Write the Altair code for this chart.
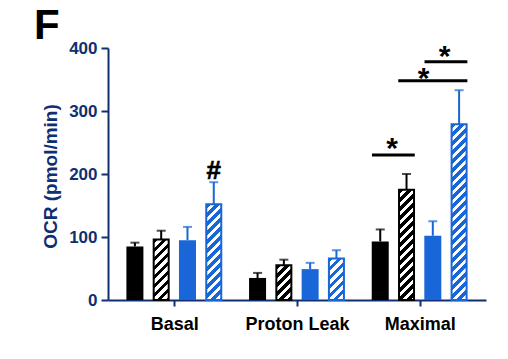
import json
import altair as alt
import pandas as pd

# ---------------- data ----------------
categories = ["Basal", "Proton Leak", "Maximal"]
groups = ["Control", "Control + treatment", "Knockout", "Knockout + treatment"]

mean_control = [85, 35, 93]
mean_control_treated = [96, 55, 175]
mean_knockout = [95, 49, 102]
mean_knockout_treated = [152, 66, 279]

sem_control = [6, 8, 19]
sem_control_treated = [14, 9, 25]
sem_knockout = [21, 10, 23]
sem_knockout_treated = [35, 13, 54]

# significance brackets (category, first group index, last group index, level)
sig_category = ["Maximal", "Maximal", "Maximal"]
sig_from = [0, 1, 2]
sig_to = [1, 3, 3]
sig_level = [230, 348, 378]
star_group_pos = [0.45, 1.65, 2.45]
star_level = [252, 363, 398]

hash_category = ["Basal"]
hash_group = [3]
hash_level = [206]

# ---------------- layout / style ----------------
WIDTH, HEIGHT = 378, 252
YMAX = 400
CAT_PX = WIDTH / len(categories)
GROUP_STEP = 27 / CAT_PX
BAR_PX = 17
HALF_BAR = (BAR_PX / 2) / CAT_PX
NAVY = "#0f2f72"
BLUE = "#1866d8"
BLACK = "#000000"
FONT = "Liberation Sans"
group_colors = [BLACK, BLACK, BLUE, BLUE]
hatched = [False, True, False, True]

means = [mean_control, mean_control_treated, mean_knockout, mean_knockout_treated]
sems = [sem_control, sem_control_treated, sem_knockout, sem_knockout_treated]


def xpos(ci, gpos):
    return ci + 0.5 + (gpos - 1.5) * GROUP_STEP


rows = []
for gi, g in enumerate(groups):
    for ci, c in enumerate(categories):
        rows.append(dict(group=g, gi=gi, category=c, value=means[gi][ci],
                         upper=means[gi][ci] + sems[gi][ci], xpos=xpos(ci, gi)))
df = pd.DataFrame(rows)

sig_df = pd.DataFrame({
    "xpos": [xpos(categories.index(c), a) - HALF_BAR for c, a in zip(sig_category, sig_from)],
    "xend": [xpos(categories.index(c), b) + HALF_BAR for c, b in zip(sig_category, sig_to)],
    "value": sig_level,
})
star_df = pd.DataFrame({
    "xpos": [xpos(categories.index(c), p) for c, p in zip(sig_category, star_group_pos)],
    "value": star_level,
    "label": ["*"] * len(star_level),
})
hash_df = pd.DataFrame({
    "xpos": [xpos(categories.index(c), g) for c, g in zip(hash_category, hash_group)],
    "value": hash_level,
    "label": ["#"],
})

xscale = alt.Scale(domain=[0, len(categories)], nice=False, zero=False)
yscale = alt.Scale(domain=[0, YMAX], nice=False)
label_expr = json.dumps(categories) + "[floor(datum.value)]"
xaxis = alt.Axis(values=[i + 0.5 for i in range(len(categories))], labelExpr=label_expr,
                 title=None, grid=False, labelFont=FONT, labelFontSize=18,
                 labelFontWeight="bold", labelColor=BLACK, labelPadding=9,
                 tickSize=6, tickWidth=2, tickColor=NAVY, domainColor=NAVY,
                 domainWidth=2, labelFlush=False)
yaxis = alt.Axis(values=[0, 100, 200, 300, 400], format="d", title="OCR (pmol/min)",
                 grid=False, labelFont=FONT, labelFontSize=17, labelFontWeight="bold",
                 labelColor=NAVY, labelPadding=4, tickSize=7, tickWidth=2,
                 tickColor=NAVY, domainColor=NAVY, domainWidth=2,
                 titleFont=FONT, titleFontSize=19, titleFontWeight="bold",
                 titleColor=NAVY, titleX=-48, titleY=128)
X = alt.X("xpos:Q", scale=xscale, axis=xaxis)
Y = alt.Y("value:Q", scale=yscale, axis=yaxis)
color = alt.Color("group:N", scale=alt.Scale(domain=groups, range=group_colors), legend=None)

base = alt.Chart(df)

solid_groups = [g for g, h in zip(groups, hatched) if not h]
solid = base.transform_filter(
    alt.FieldOneOfPredicate(field="group", oneOf=solid_groups)
).mark_bar(size=BAR_PX).encode(x=X, y=Y, color=color)


def hatch_fill(col, value, w=BAR_PX - 2, period=9.0, dark=0.5):
    h = value * HEIGHT / YMAX
    L = w + h
    x2 = w * L / (w * w + h * h)
    y2 = h * L / (w * w + h * h)
    stops = []
    s = 0.0
    while s < L:
        a = s / L
        b = min((s + period * dark) / L, 1)
        c = min((s + period) / L, 1)
        stops += [{"offset": a, "color": col}, {"offset": b, "color": col},
                  {"offset": b, "color": "white"}, {"offset": c, "color": "white"}]
        s += period
    return {"gradient": "linear", "x1": 0, "y1": 0, "x2": x2, "y2": y2, "stops": stops}


hatch_layers = []
for gi, g in enumerate(groups):
    if not hatched[gi]:
        continue
    for ci, c in enumerate(categories):
        v = means[gi][ci]
        layer = base.transform_filter(
            (alt.datum.group == g) & (alt.datum.category == c)
        ).mark_bar(size=BAR_PX - 2, fill=hatch_fill(group_colors[gi], v),
                   stroke=group_colors[gi], strokeWidth=2).encode(x=X, y=Y)
        hatch_layers.append(layer)

err_rule = base.mark_rule(strokeWidth=2).encode(x=X, y=Y, y2=alt.Y2("upper:Q"), color=color)
err_cap = base.mark_tick(orient="horizontal", size=9, thickness=2).encode(
    x=X, y=alt.Y("upper:Q", scale=yscale, axis=yaxis), color=color)

brackets = alt.Chart(sig_df).mark_rule(strokeWidth=3, color=BLACK).encode(
    x=X, x2=alt.X2("xend:Q"), y=Y)
stars = alt.Chart(star_df).mark_text(font=FONT, fontSize=30, fontWeight="bold",
                                     color=BLACK, baseline="alphabetic", dy=17).encode(
    x=X, y=Y, text="label:N")
hashes = alt.Chart(hash_df).mark_text(font=FONT, fontSize=26, fontWeight="bold",
                                      color=BLACK, baseline="alphabetic", dy=9,
                                      stroke=BLACK, strokeWidth=0.6).encode(
    x=X, y=Y, text="label:N")
panel = alt.Chart(pd.DataFrame({"label": ["F"]})).mark_text(
    font=FONT, fontSize=42, fontWeight="bold", color=BLACK, align="left",
    baseline="alphabetic").encode(x=alt.value(-74), y=alt.value(-9), text="label:N")

chart = alt.layer(solid, *hatch_layers, err_rule, err_cap, brackets, stars, hashes, panel).properties(
    width=WIDTH, height=HEIGHT,
    padding={"left": 108, "top": 48, "right": 508 - 108 - WIDTH, "bottom": 359 - 48 - HEIGHT},
    autosize=alt.AutoSizeParams(type="none"),
).configure_view(stroke=None)

chart.save("out.html", embed_options={"renderer": "svg", "actions": False})
